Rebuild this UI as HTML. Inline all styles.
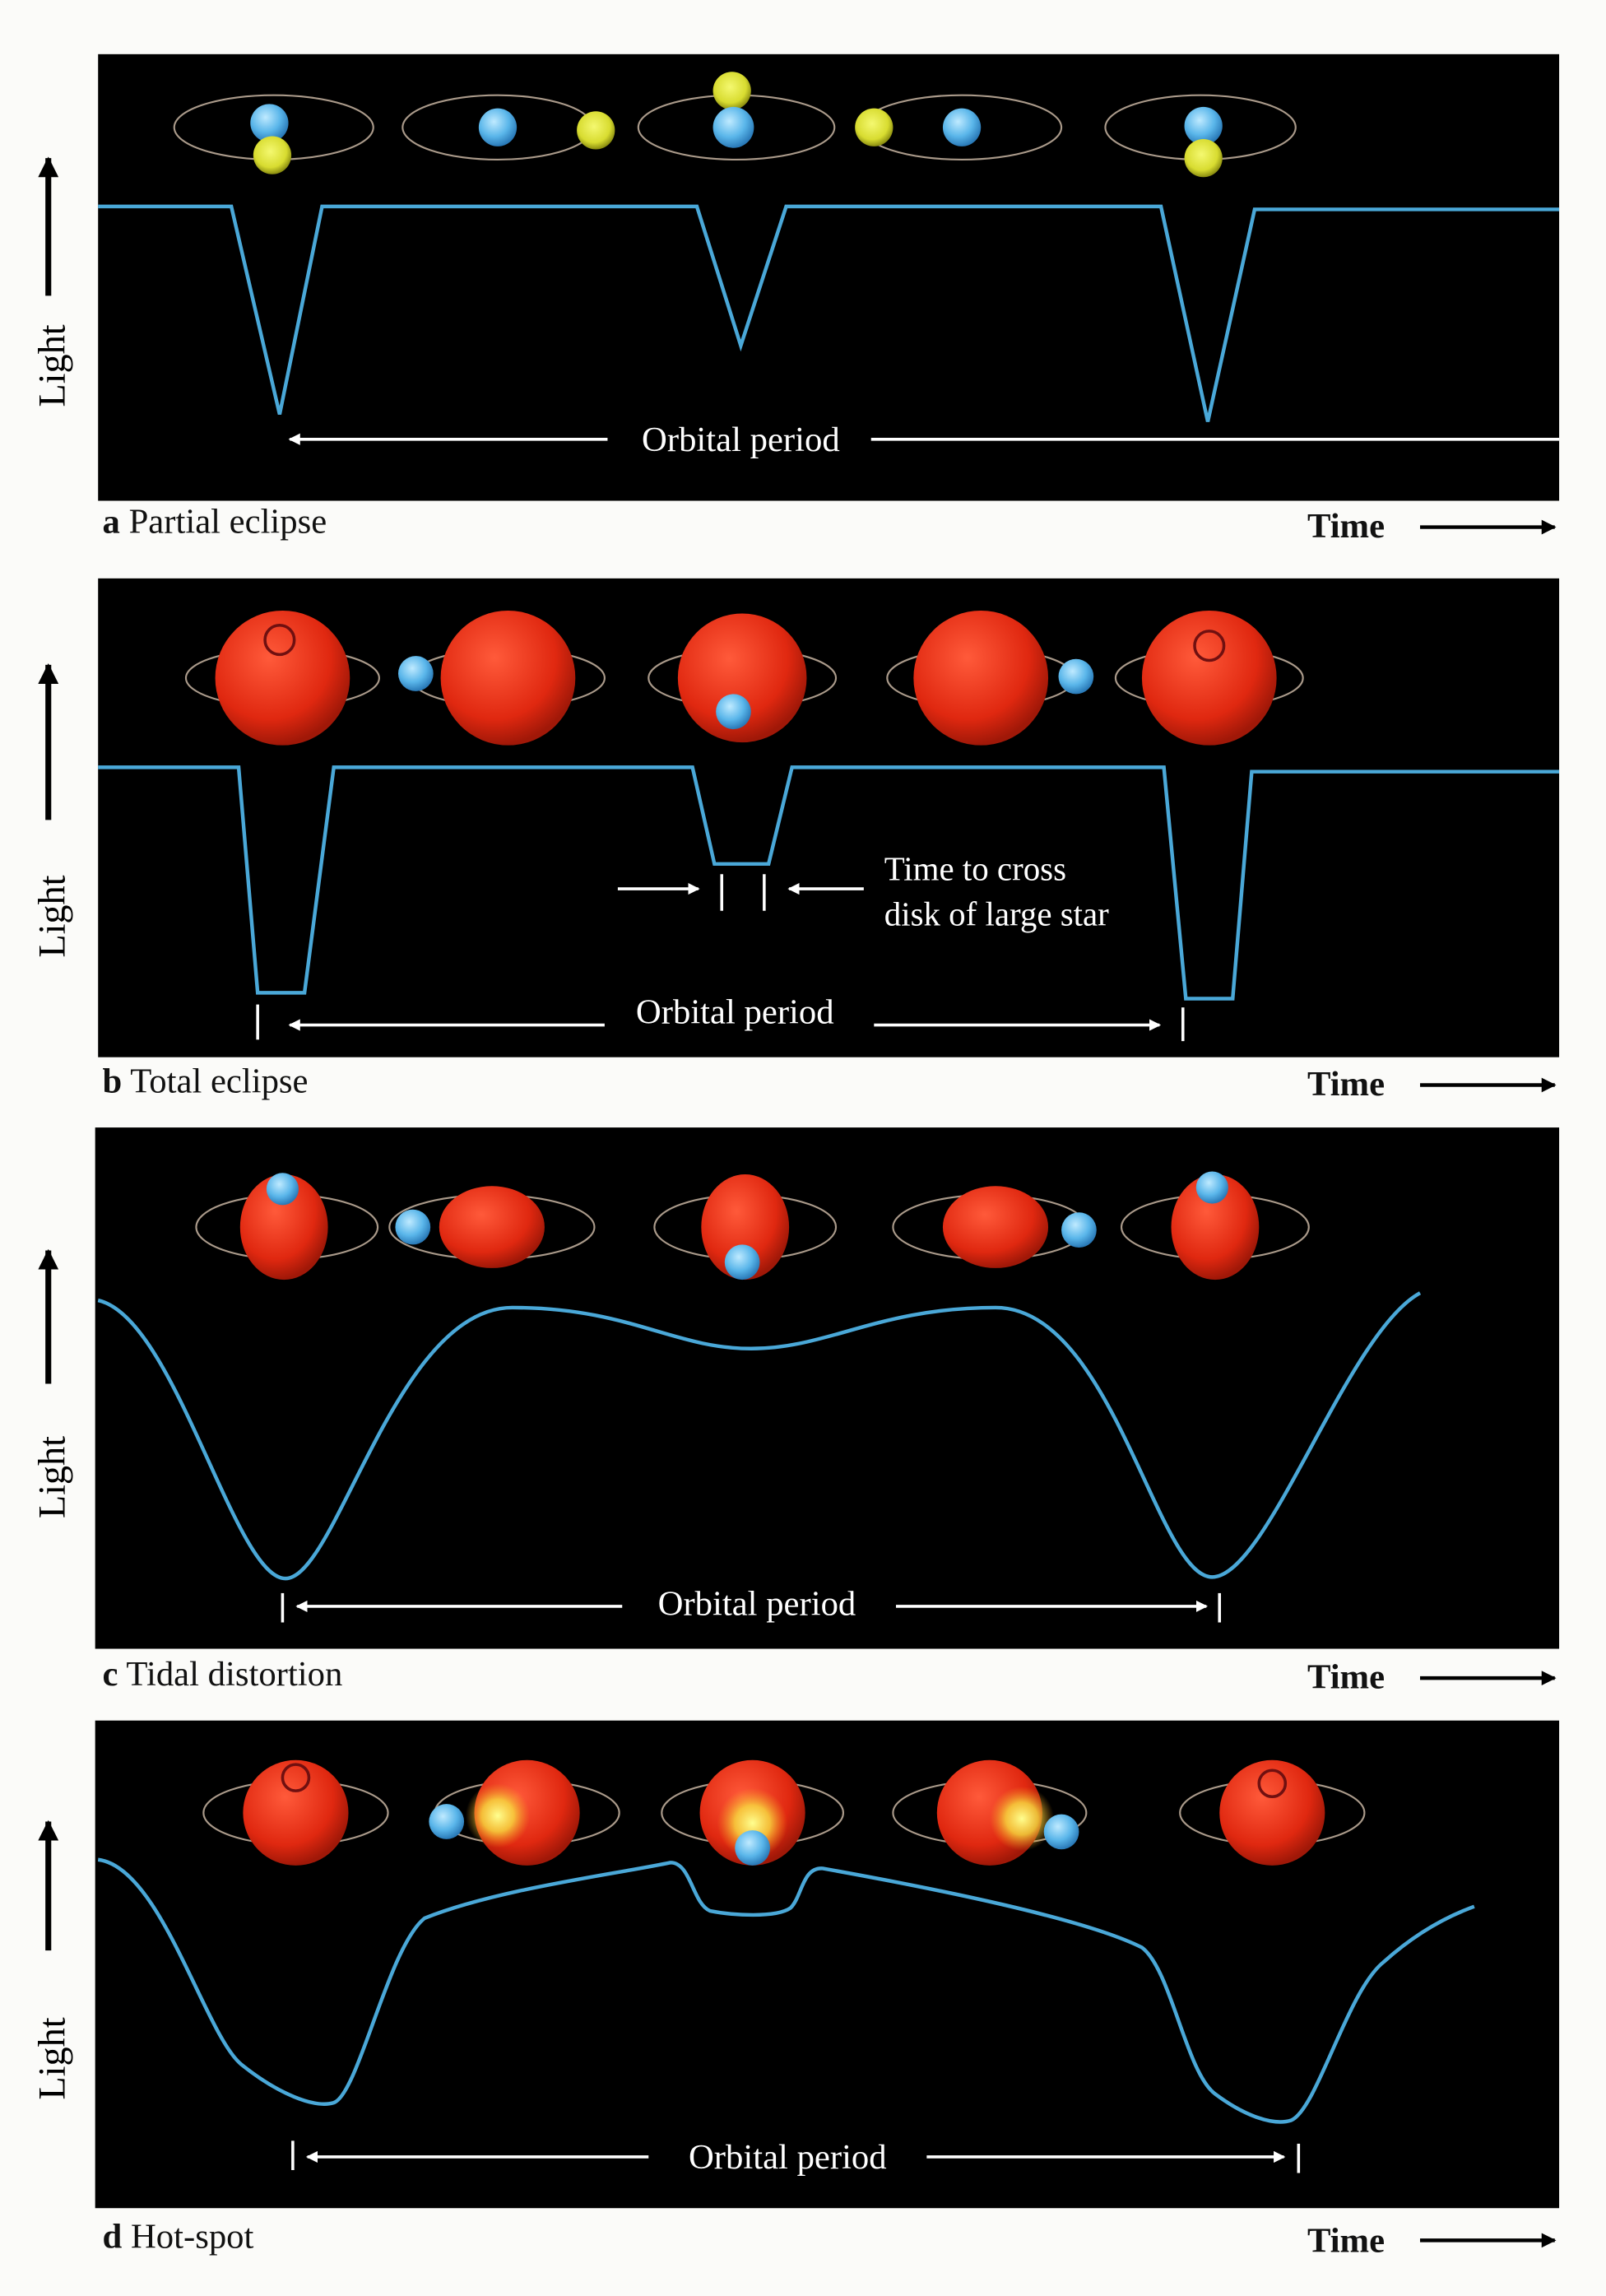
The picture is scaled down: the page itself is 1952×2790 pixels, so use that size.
<!DOCTYPE html>
<html><head><meta charset="utf-8"><style>
html,body{margin:0;padding:0;background:#fbfbf9}
svg{display:block}
text{font-family:"Liberation Serif",serif}
</style></head><body>
<svg width="1952" height="2790" viewBox="0 0 1097 1568" preserveAspectRatio="none" xmlns="http://www.w3.org/2000/svg">
<defs>
<radialGradient id="red" cx="40%" cy="35%" r="65%"><stop offset="0" stop-color="#ff5a3a"/><stop offset="0.7" stop-color="#e02810"/><stop offset="1" stop-color="#a01808"/></radialGradient>
<radialGradient id="blue" cx="40%" cy="35%" r="65%"><stop offset="0" stop-color="#bfeaff"/><stop offset="0.6" stop-color="#5ab6ea"/><stop offset="1" stop-color="#2a7ab8"/></radialGradient>
<radialGradient id="yel" cx="45%" cy="40%" r="60%"><stop offset="0" stop-color="#f4f870"/><stop offset="0.7" stop-color="#d8dc30"/><stop offset="1" stop-color="#8a8c10"/></radialGradient>
<radialGradient id="spot" cx="50%" cy="50%" r="50%"><stop offset="0" stop-color="#ffff90"/><stop offset="0.5" stop-color="#f8e040" stop-opacity="0.8"/><stop offset="1" stop-color="#f0a020" stop-opacity="0"/></radialGradient>
<marker id="ah" markerWidth="8" markerHeight="8" refX="7" refY="4" orient="auto" markerUnits="userSpaceOnUse"><path d="M0,0 L8,4 L0,8 Z" fill="#fff"/></marker>
<marker id="ahk" markerWidth="10" markerHeight="10" refX="9" refY="5" orient="auto" markerUnits="userSpaceOnUse"><path d="M0,0 L10,5 L0,10 Z" fill="#000"/></marker>
<marker id="ahk2" markerWidth="14" markerHeight="14" refX="13" refY="7" orient="auto" markerUnits="userSpaceOnUse"><path d="M0,0 L14,7 L0,14 Z" fill="#000"/></marker>
</defs>

<rect x="67" y="37" width="998" height="305" fill="#000"/>
<rect x="67" y="395" width="998" height="327" fill="#000"/>
<rect x="65" y="770" width="1000" height="356" fill="#000"/>
<rect x="65" y="1175" width="1000" height="333" fill="#000"/>

<g fill="#000" stroke="#000" stroke-width="4">
<line x1="33" y1="202" x2="33" y2="108" marker-end="url(#ahk2)"/>
<line x1="33" y1="560" x2="33" y2="454" marker-end="url(#ahk2)"/>
<line x1="33" y1="945" x2="33" y2="854" marker-end="url(#ahk2)"/>
<line x1="33" y1="1332" x2="33" y2="1244" marker-end="url(#ahk2)"/>
</g>
<g font-size="26" fill="#000">
<text transform="translate(44,278) rotate(-90)">Light</text>
<text transform="translate(44,654) rotate(-90)">Light</text>
<text transform="translate(44,1037) rotate(-90)">Light</text>
<text transform="translate(44,1434) rotate(-90)">Light</text>
</g>

<g font-size="24" fill="#111">
<text x="70" y="364"><tspan font-weight="bold">a</tspan>  Partial eclipse</text>
<text x="70" y="746"><tspan font-weight="bold">b</tspan>  Total eclipse</text>
<text x="70" y="1151"><tspan font-weight="bold">c</tspan>  Tidal distortion</text>
<text x="70" y="1535"><tspan font-weight="bold">d</tspan>  Hot-spot</text>
<g font-weight="bold"><text x="893" y="367">Time</text><text x="893" y="748">Time</text><text x="893" y="1153">Time</text><text x="893" y="1538">Time</text></g>
</g>
<g stroke="#000" stroke-width="2.5">
<line x1="970" y1="360" x2="1062" y2="360" marker-end="url(#ahk)"/>
<line x1="970" y1="741" x2="1062" y2="741" marker-end="url(#ahk)"/>
<line x1="970" y1="1146" x2="1062" y2="1146" marker-end="url(#ahk)"/>
<line x1="970" y1="1530" x2="1062" y2="1530" marker-end="url(#ahk)"/>
</g>

<g fill="none" stroke="#4aa8d8" stroke-width="2.5">
<polyline points="67,141 158,141 191,283 220,141 476,141 506,236 537,141 793,141 825,288 857,143 1065,143"/>
<polyline points="67,524 163,524 176,678 208,678 228,524 473,524 488,590 525,590 541,524 795,524 810,682 842,682 855,527 1065,527"/>
<path d="M67,888 C120,900 160,1078 195,1078 C230,1078 270,893 350,893 C430,893 460,921 513,921 C566,921 600,893 680,893 C760,893 790,1077 828,1077 C866,1077 920,910 970,883"/>
<path d="M67,1270 C110,1275 140,1390 165,1410 C190,1430 215,1440 228,1436 C245,1430 265,1330 290,1310 C340,1290 420,1280 458,1272 C472,1272 473,1300 485,1305 C500,1308 530,1310 540,1303 C548,1295 548,1275 562,1276 C640,1290 740,1310 780,1330 C800,1345 810,1415 830,1430 C850,1445 870,1452 882,1448 C900,1440 920,1360 945,1340 C965,1322 985,1310 1007,1302"/>
</g>

<g stroke="#fff" stroke-width="2" fill="#fff">
<line x1="415" y1="300" x2="198" y2="300" marker-end="url(#ah)"/>
<line x1="595" y1="300" x2="1065" y2="300"/>
<line x1="176" y1="686" x2="176" y2="710"/><line x1="808" y1="688" x2="808" y2="711"/>
<line x1="413" y1="700" x2="198" y2="700" marker-end="url(#ah)"/>
<line x1="597" y1="700" x2="792" y2="700" marker-end="url(#ah)"/>
<line x1="493" y1="597" x2="493" y2="622"/><line x1="522" y1="597" x2="522" y2="622"/>
<line x1="422" y1="607" x2="477" y2="607" marker-end="url(#ah)"/>
<line x1="590" y1="607" x2="539" y2="607" marker-end="url(#ah)"/>
<line x1="193" y1="1088" x2="193" y2="1108"/><line x1="833" y1="1088" x2="833" y2="1108"/>
<line x1="425" y1="1097" x2="203" y2="1097" marker-end="url(#ah)"/>
<line x1="612" y1="1097" x2="824" y2="1097" marker-end="url(#ah)"/>
<line x1="200" y1="1462" x2="200" y2="1482"/><line x1="887" y1="1464" x2="887" y2="1484"/>
<line x1="443" y1="1473" x2="210" y2="1473" marker-end="url(#ah)"/>
<line x1="633" y1="1473" x2="877" y2="1473" marker-end="url(#ah)"/>
</g>
<g font-size="24" fill="#fff" text-anchor="middle">
<text x="506" y="308">Orbital period</text>
<text x="502" y="699">Orbital period</text>
<text x="517" y="1103">Orbital period</text>
<text x="538" y="1481">Orbital period</text>
</g>
<g font-size="23" fill="#fff"><text x="604" y="601">Time to cross</text><text x="604" y="632">disk of large star</text></g>

<g fill="none" stroke="#aa9a8a" stroke-width="1.2">
<ellipse cx="187" cy="87" rx="68" ry="22"/><ellipse cx="340" cy="87" rx="65" ry="22"/><ellipse cx="503" cy="87" rx="67" ry="22"/><ellipse cx="657" cy="87" rx="68" ry="22"/><ellipse cx="820" cy="87" rx="65" ry="22"/>
<ellipse cx="193" cy="463" rx="66" ry="20"/><ellipse cx="347" cy="463" rx="66" ry="20"/><ellipse cx="507" cy="463" rx="64" ry="20"/><ellipse cx="670" cy="463" rx="64" ry="20"/><ellipse cx="826" cy="463" rx="64" ry="20"/>
<ellipse cx="196" cy="838" rx="62" ry="22"/><ellipse cx="336" cy="838" rx="70" ry="22"/><ellipse cx="509" cy="838" rx="62" ry="22"/><ellipse cx="676" cy="838" rx="66" ry="22"/><ellipse cx="830" cy="838" rx="64" ry="22"/>
<ellipse cx="202" cy="1238" rx="63" ry="22"/><ellipse cx="360" cy="1238" rx="63" ry="22"/><ellipse cx="514" cy="1238" rx="62" ry="22"/><ellipse cx="676" cy="1238" rx="66" ry="22"/><ellipse cx="869" cy="1238" rx="63" ry="22"/>
</g>
<circle cx="184" cy="84" r="13" fill="url(#blue)"/><circle cx="186" cy="106" r="13" fill="url(#yel)"/>
<circle cx="340" cy="87" r="13" fill="url(#blue)"/><circle cx="407" cy="89" r="13" fill="url(#yel)"/>
<circle cx="500" cy="62" r="13" fill="url(#yel)"/><circle cx="501" cy="87" r="14" fill="url(#blue)"/>
<circle cx="597" cy="87" r="13" fill="url(#yel)"/><circle cx="657" cy="87" r="13" fill="url(#blue)"/>
<circle cx="822" cy="86" r="13" fill="url(#blue)"/><circle cx="822" cy="108" r="13" fill="url(#yel)"/>
<circle cx="193" cy="463" r="46" fill="url(#red)"/><circle cx="191" cy="437" r="10" fill="none" stroke="#701010" stroke-width="2"/>
<circle cx="347" cy="463" r="46" fill="url(#red)"/><circle cx="284" cy="460" r="12" fill="url(#blue)"/>
<circle cx="507" cy="463" r="44" fill="url(#red)"/><circle cx="501" cy="486" r="12" fill="url(#blue)"/>
<circle cx="670" cy="463" r="46" fill="url(#red)"/><circle cx="735" cy="462" r="12" fill="url(#blue)"/>
<circle cx="826" cy="463" r="46" fill="url(#red)"/><circle cx="826" cy="441" r="10" fill="none" stroke="#701010" stroke-width="2"/>
<ellipse cx="194" cy="838" rx="30" ry="36" fill="url(#red)"/><circle cx="193" cy="812" r="11" fill="url(#blue)"/>
<ellipse cx="336" cy="838" rx="36" ry="28" fill="url(#red)"/><circle cx="282" cy="838" r="12" fill="url(#blue)"/>
<ellipse cx="509" cy="838" rx="30" ry="36" fill="url(#red)"/><circle cx="507" cy="862" r="12" fill="url(#blue)"/>
<ellipse cx="680" cy="838" rx="36" ry="28" fill="url(#red)"/><circle cx="737" cy="840" r="12" fill="url(#blue)"/>
<ellipse cx="830" cy="838" rx="30" ry="36" fill="url(#red)"/><circle cx="828" cy="811" r="11" fill="url(#blue)"/>
<circle cx="202" cy="1238" r="36" fill="url(#red)"/><circle cx="202" cy="1214" r="9" fill="none" stroke="#701010" stroke-width="2"/>
<circle cx="360" cy="1238" r="36" fill="url(#red)"/><circle cx="340" cy="1240" r="22" fill="url(#spot)"/><circle cx="305" cy="1244" r="12" fill="url(#blue)"/>
<circle cx="514" cy="1238" r="36" fill="url(#red)"/><circle cx="514" cy="1245" r="24" fill="url(#spot)"/><circle cx="514" cy="1262" r="12" fill="url(#blue)"/>
<circle cx="676" cy="1238" r="36" fill="url(#red)"/><circle cx="698" cy="1242" r="22" fill="url(#spot)"/><circle cx="725" cy="1251" r="12" fill="url(#blue)"/>
<circle cx="869" cy="1238" r="36" fill="url(#red)"/><circle cx="869" cy="1218" r="9" fill="none" stroke="#701010" stroke-width="2"/>
</svg>
</body></html>
